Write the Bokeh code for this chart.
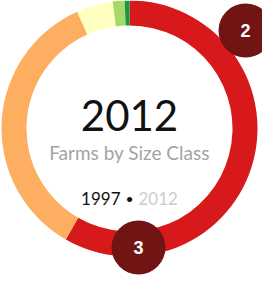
import math
from bokeh.plotting import figure
from bokeh.models import Range1d, ColumnDataSource
from bokeh.core.properties import value
from bokeh.embed import file_html
from bokeh.resources import INLINE

# data
classes = ["Class 1", "Class 2", "Class 3", "Class 4", "Class 5"]
shares = [58.3, 35.0, 4.6, 1.5, 0.6]
colors = ["#d7191c", "#fdae61", "#ffffbf", "#a6d96a", "#1a9641"]
title_year = "2012"
subtitle = "Farms by Size Class"
years = ["1997", "2012"]
badges = ["2", "3"]

W, H = 262, 277
p = figure(width=W, height=H, output_backend="svg", toolbar_location=None,
           x_range=Range1d(8, 270), y_range=Range1d(0, 277),
           min_border=0, outline_line_color=None, background_fill_color="white")
p.axis.visible = False
p.grid.visible = False

def py(y):  # pixel-from-top to data y
    return 285 - y

cx, cy = 137, py(136)
total = sum(shares)
starts, ends = [], []
acc = 0.0
for s in shares:
    starts.append(math.pi / 2 - acc / total * 2 * math.pi)
    acc += s
    ends.append(math.pi / 2 - acc / total * 2 * math.pi)
src = ColumnDataSource(dict(cls=classes, share=shares, color=colors, start=starts, end=ends))
p.annular_wedge(x=cx, y=cy, inner_radius=103, outer_radius=128, start_angle="start",
                end_angle="end", direction="clock", fill_color="color", line_color=None, source=src)

p.text(x=[137], y=[py(123)], text=[title_year], text_font=value("Lato"), text_font_size="42px",
       text_color="#111111", text_align="center", text_baseline="middle")
p.text(x=[137], y=[py(160)], text=[subtitle], text_font=value("Lato"), text_font_size="19px",
       text_color="#a4a4a4", text_align="center", text_baseline="middle")
p.text(x=[128], y=[py(206)], text=[years[0]], text_font=value("Lato"), text_font_size="17px",
       text_color="#111111", text_align="right", text_baseline="middle")
p.text(x=[137], y=[py(206)], text=["•"], text_font=value("Lato"), text_font_size="14px",
       text_color="#111111", text_align="center", text_baseline="middle")
p.text(x=[146], y=[py(206)], text=[years[1]], text_font=value("Lato"), text_font_size="17px",
       text_color="#cccccc", text_align="left", text_baseline="middle")

bx = [253, 146]
by = [py(38), py(255)]
p.circle(x=bx, y=by, radius=27, fill_color="#701414", line_color=None)
p.text(x=bx, y=by, text=badges, text_font=value("Liberation Sans"), text_font_style="bold",
       text_font_size="18px", text_color="white", text_align="center", text_baseline="middle")

open("out.html", "w").write(file_html(p, INLINE))
